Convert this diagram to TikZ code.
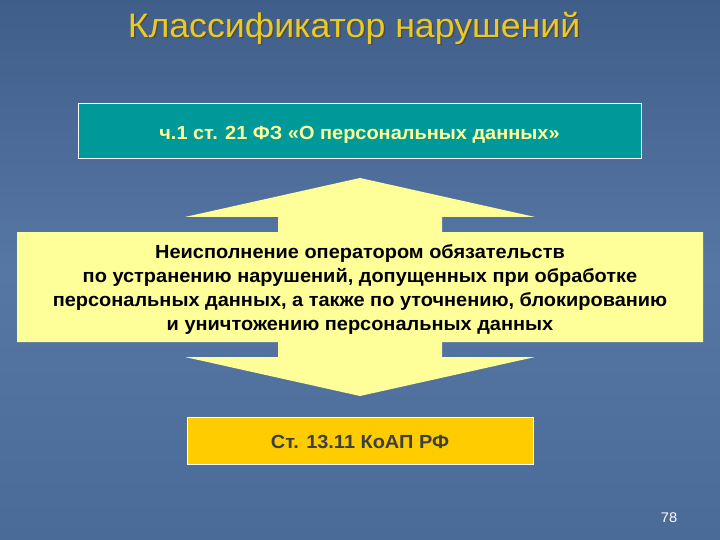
\documentclass[tikz,border=0pt]{standalone}
\usepackage{fontspec}
\setmainfont[FakeStretch=1.05]{Liberation Sans}
\definecolor{bgtop}{RGB}{64,94,138}
\definecolor{bgmid}{RGB}{86,118,164}
\definecolor{bgbot}{RGB}{74,106,152}
\definecolor{titlegold}{RGB}{234,202,36}
\definecolor{lawteal}{RGB}{0,153,153}
\definecolor{paleyellow}{RGB}{255,255,153}
\definecolor{codegold}{RGB}{255,204,0}
\definecolor{codetext}{RGB}{60,64,64}
\newcommand{\shadowed}[1]{\rlap{\hspace{1.5pt}\raisebox{-1.5pt}{\textcolor{black!70}{#1}}}#1}
\tikzset{
	titletext/.style={font=\fontsize{34}{40}\selectfont, text=titlegold, anchor=base},
	lawbox/.style={draw=white, fill=lawteal, text=paleyellow, font=\bfseries\fontsize{19}{22}\selectfont, minimum width=563pt, minimum height=55pt, text height=18pt, text depth=0pt},
	codebox/.style={draw=white, fill=codegold, text=codetext, font=\bfseries\fontsize{19}{22}\selectfont, minimum width=346pt, minimum height=47pt, text height=15pt, text depth=0pt},
	dutytext/.style={align=center, font=\bfseries\fontsize{19}{24}\selectfont}
}
\begin{document}
\begin{tikzpicture}[x=1pt, y=-1pt]
	%background
	\useasboundingbox (0,0) rectangle (720,540);
	\shade[top color=bgtop, bottom color=bgmid] (0,0) rectangle (720,270);
	\shade[top color=bgmid, bottom color=bgbot] (0,270) rectangle (720,540);
	
	%title
	\node (title) at (354,37.5) [titletext]{\shadowed{Классификатор нарушений}};
	
	%law box
	\node (law) at (359.5,131) [lawbox]{ч.1 ст. 21 ФЗ «О персональных данных»};
	
	%double arrow
	\fill[paleyellow] (360,178) -- (535,217) -- (442,217) -- (442,232) -- (703,232)
		-- (703,342) -- (442,342) -- (442,357) -- (535,357) -- (360,396)
		-- (185,357) -- (278,357) -- (278,342) -- (17,342) -- (17,232)
		-- (278,232) -- (278,217) -- (185,217) -- cycle;
	\node (duty) at (360,290) [dutytext]{Неисполнение оператором обязательств\\
		по устранению нарушений, допущенных при обработке\\
		персональных данных, а также по уточнению, блокированию\\
		и уничтожению персональных данных};
	
	%code box
	\node (code) at (360,440.5) [codebox]{Ст. 13.11 КоАП РФ};
	
	%page number
	\node (page) at (669,522.7) [anchor=base, text=white, font=\fontsize{14}{16}\selectfont]{78};
\end{tikzpicture}
\end{document}
